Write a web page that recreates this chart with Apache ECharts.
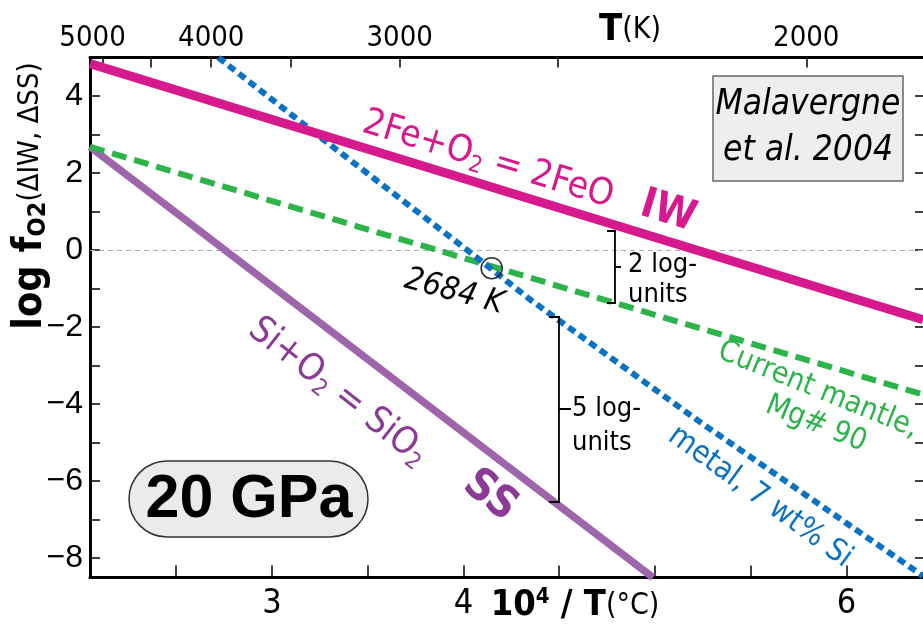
<!DOCTYPE html>
<html><head><meta charset="utf-8">
<script src="https://cdn.jsdelivr.net/npm/echarts@6/dist/echarts.min.js"></script>
<style>html,body{margin:0;padding:0;background:#fff}#c{width:923px;height:633px}</style>
</head><body><div id="c"></div>
<script>
// ---- data ----
const X_MIN = 2.05, X_MAX = 6.4;
const Y_MIN = -8.5, Y_MAX = 5;
const iwX = [2.05, 6.4];
const iwY = [4.84, -1.81];
const mantleX = [2.05, 6.4];
const mantleY = [2.68, -3.75];
const metalX = [2.72, 3.24, 4.02, 4.35, 5.24, 6.4];
const metalY = [5.0, 2.98, 0.0, -1.29, -4.48, -8.46];
const ssX = [2.05, 4.99];
const ssY = [2.68, -8.5];
const crossTK = 2684;
const crossY = -0.47;
const topTickK = [5000, 4500, 4000, 3500, 3000, 2500, 2000];
const topLabelK = [5000, 4000, 3000, 2000];
const bottomTicks = [2.5, 3, 3.5, 4, 4.5, 5, 5.5, 6];
const bottomLabels = [3, 4, 6];
const yTicks = [-8, -7, -6, -5, -4, -3, -2, -1, 0, 1, 2, 3, 4];
const yLabels = [-8, -6, -4, -2, 0, 2, 4];

// ---- helpers ----
const invT = K => 1e4 / (K - 273);
const zip = (xs, ys) => xs.map((x, i) => [x, ys[i]]);
const NARROW = "'Liberation Sans Narrow','DejaVu Sans Condensed',sans-serif";
const SANS = "'Liberation Sans','DejaVu Sans',sans-serif";
const C_IW = '#d6198c', C_SS = '#9e65ab', C_SS_T = '#8b3a96', C_MAN = '#2cb34a', C_MET = '#0a72c2';
const deg = d => d * Math.PI / 180;

const chart = echarts.init(document.getElementById('c'), null, {renderer: 'canvas'});

function txt(x, y, rot, text, style) {
  return {type: 'text', x: x, y: y, rotation: deg(rot), z: 100,
    style: Object.assign({text: text, align: 'center', verticalAlign: 'middle', fill: '#000'}, style)};
}

const option = {
  animation: false,
  backgroundColor: '#fff',
  grid: {left: 90, right: 0, top: 57.5, bottom: 55.5, outerBoundsMode: 'none'},
  xAxis: [
    {type: 'value', min: X_MIN, max: X_MAX, position: 'bottom',
      axisLine: {show: true, onZero: false, lineStyle: {color: '#000', width: 3}},
      axisTick: {show: true, inside: true, length: 12, customValues: bottomTicks, lineStyle: {color: '#000', width: 1.5}},
      axisLabel: {customValues: bottomLabels, margin: 10, color: '#000', fontSize: 34, fontFamily: NARROW},
      splitLine: {show: false}},
    {type: 'value', min: X_MIN, max: X_MAX, position: 'top',
      axisLine: {show: true, onZero: false, lineStyle: {color: '#000', width: 3}},
      axisTick: {show: true, inside: true, length: 10, customValues: topTickK.map(invT), lineStyle: {color: '#000', width: 1.5}},
      axisLabel: {customValues: topLabelK.map(invT), margin: 5, color: '#000', fontSize: 29, fontFamily: NARROW,
        formatter: v => {
          const k = Math.round((1e4 / v + 273) / 10) * 10;
          return k === 5000 ? '{l|' + k + '}' : String(k);
        },
        rich: {l: {fontSize: 29, fontFamily: NARROW, color: '#000', padding: [0, 20, 0, 0]}}},
      splitLine: {show: false}}
  ],
  yAxis: [
    {type: 'value', min: Y_MIN, max: Y_MAX, position: 'left',
      axisLine: {show: true, onZero: false, lineStyle: {color: '#000', width: 3}},
      axisTick: {show: true, inside: true, length: 10, customValues: yTicks, lineStyle: {color: '#000', width: 1.5}},
      axisLabel: {customValues: yLabels, margin: 7, color: '#000', fontSize: 32, fontFamily: SANS,
        formatter: v => v < 0 ? '\u2212' + Math.abs(v) : String(v)},
      splitLine: {show: false}},
    {type: 'value', min: Y_MIN, max: Y_MAX, position: 'right',
      axisLine: {show: false},
      axisTick: {show: true, inside: true, length: 8, customValues: yTicks, lineStyle: {color: '#000', width: 1.5}},
      axisLabel: {show: false},
      splitLine: {show: false}}
  ],
  series: [
    {type: 'line', name: 'SS', data: zip(ssX, ssY), showSymbol: false, z: 3,
      lineStyle: {color: C_SS, width: 7.5, cap: 'butt'}},
    {type: 'line', name: 'mantle', data: zip(mantleX, mantleY), showSymbol: false, z: 4,
      lineStyle: {color: C_MAN, width: 6, type: [15, 8], cap: 'butt'}},
    {type: 'line', name: 'metal', data: zip(metalX, metalY), showSymbol: false, z: 5,
      lineStyle: {color: C_MET, width: 6, type: [8, 5], cap: 'butt'}},
    {type: 'line', name: 'IW', data: zip(iwX, iwY), showSymbol: false, z: 6,
      lineStyle: {color: C_IW, width: 9, cap: 'butt'},
      markLine: {silent: true, symbol: ['none', 'none'], label: {show: false}, z: 1,
        lineStyle: {color: '#aaa', width: 1, type: [5, 4]}, data: [{yAxis: 0}]}},
    {type: 'scatter', name: 'cross', data: [[invT(crossTK), crossY]], symbol: 'circle', symbolSize: 21, z: 10,
      itemStyle: {color: 'rgba(0,0,0,0)', borderColor: '#000', borderWidth: 1.6}}
  ],
  graphic: [
    // axis titles
    txt(630, 30, 0, '{b|T}{n|(K)}', {rich: {
      b: {fontSize: 38, fontWeight: 'bold', fontFamily: NARROW, fill: '#000'},
      n: {fontSize: 30, fontFamily: NARROW, fill: '#000'}}}),
    txt(575, 606, 0, '{b|10}{sup|4}{b| / T}{n|(\u00b0C)}', {rich: {
      b: {fontSize: 36, fontWeight: 'bold', fontFamily: NARROW, fill: '#000', lineHeight: 40},
      sup: {fontSize: 22, fontWeight: 'bold', fontFamily: NARROW, fill: '#000', verticalAlign: 'top', lineHeight: 20},
      n: {fontSize: 30, fontFamily: NARROW, fill: '#000', lineHeight: 40}}}),
    txt(30, 196, 90, '{b|log f}{sub|O2}{n|(\u0394IW, \u0394SS)}', {rich: {
      b: {fontSize: 41, fontWeight: 'bold', fontFamily: NARROW, fill: '#000', lineHeight: 42},
      sub: {fontSize: 25, fontWeight: 'bold', fontFamily: NARROW, fill: '#000', verticalAlign: 'bottom', lineHeight: 22},
      n: {fontSize: 29, fontFamily: NARROW, fill: '#000', lineHeight: 42}}}),
    // line labels
    txt(488, 160, -17, '{n|2Fe+O}{s|2}{n| = 2FeO}', {rich: {
      n: {fontSize: 37, fontFamily: NARROW, fill: C_IW, lineHeight: 42},
      s: {fontSize: 23, fontFamily: NARROW, fill: C_IW, verticalAlign: 'bottom', lineHeight: 23}}}),
    txt(668, 212, -17, 'IW', {fontSize: 42, fontWeight: 'bold', fontFamily: NARROW, fill: C_IW}),
    txt(338, 392, -38, '{n|Si+O}{s|2}{n| = SiO}{s|2}', {rich: {
      n: {fontSize: 37, fontFamily: NARROW, fill: C_SS_T, lineHeight: 42},
      s: {fontSize: 23, fontFamily: NARROW, fill: C_SS_T, verticalAlign: 'bottom', lineHeight: 23}}}),
    txt(490, 496, -38, 'SS', {fontSize: 44, fontWeight: 'bold', fontFamily: NARROW, fill: C_SS_T}),
    txt(818, 390, -22, 'Current mantle,', {fontSize: 30, fontFamily: NARROW, fill: C_MAN}),
    txt(816, 424, -22, 'Mg# 90', {fontSize: 30, fontFamily: NARROW, fill: C_MAN}),
    txt(760, 497, -36, 'metal, 7 wt% Si', {fontSize: 31, fontFamily: NARROW, fill: C_MET}),
    txt(454, 292, -15, '2684 K', {fontSize: 32, fontStyle: 'italic', fontFamily: NARROW, fill: '#000'}),
    // brackets
    {type: 'polyline', z: 50, shape: {points: [[607, 231], [615, 231], [615, 267], [621, 267], [615, 267], [615, 303], [607, 303]]},
      style: {stroke: '#000', lineWidth: 1.8, fill: null}},
    {type: 'text', x: 628, y: 280, z: 100, style: {text: '2 log-\nunits', fontSize: 27, fontFamily: NARROW, fill: '#000',
      align: 'left', verticalAlign: 'middle', lineHeight: 30}},
    {type: 'polyline', z: 50, shape: {points: [[549, 317], [559, 317], [559, 409], [571, 409], [559, 409], [559, 502], [549, 502]]},
      style: {stroke: '#000', lineWidth: 1.8, fill: null}},
    {type: 'text', x: 572, y: 426, z: 100, style: {text: '5 log-\nunits', fontSize: 27, fontFamily: NARROW, fill: '#000',
      align: 'left', verticalAlign: 'middle', lineHeight: 34}},
    // boxes
    {type: 'rect', z: 60, shape: {x: 713, y: 76, width: 190, height: 105},
      style: {fill: '#eeeeee', stroke: '#666', lineWidth: 1.5}},
    txt(808, 128, 0, 'Malavergne\net al. 2004', {fontSize: 35, fontStyle: 'italic', fontFamily: NARROW, fill: '#000', lineHeight: 46}),
    {type: 'rect', z: 60, shape: {x: 129, y: 461, width: 239, height: 76, r: 38},
      style: {fill: '#ebebeb', stroke: '#333', lineWidth: 1.5}},
    txt(249, 500, 0, '20 GPa', {fontSize: 61, fontWeight: 'bold', fontFamily: SANS, fill: '#000'})
  ]
};
chart.setOption(option);
</script></body></html>
